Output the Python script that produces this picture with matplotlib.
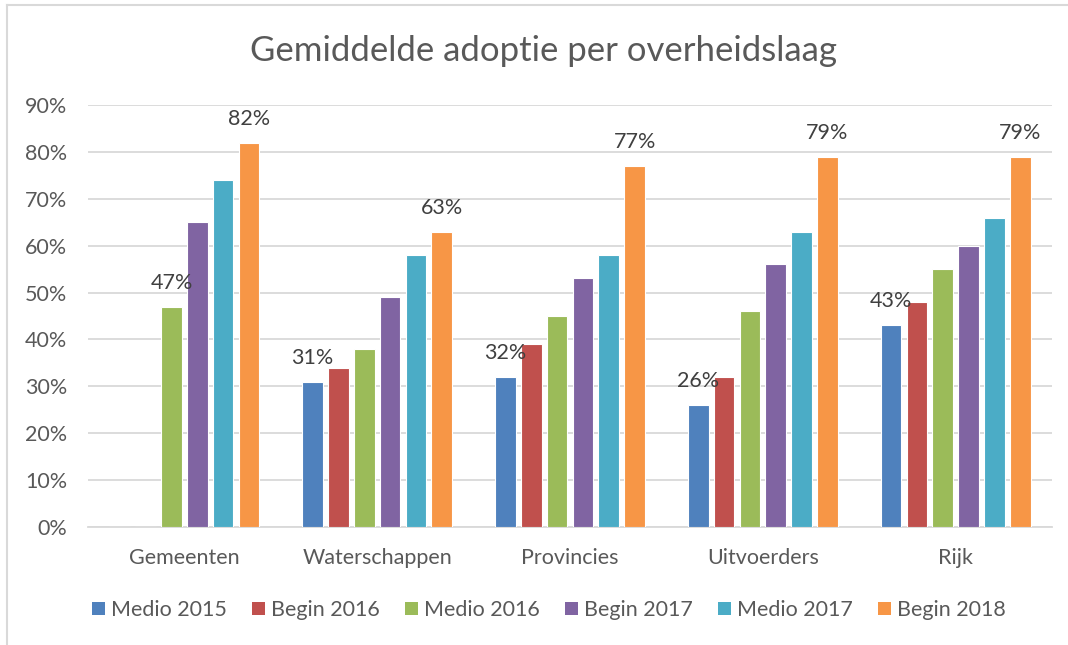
import numpy as np
import matplotlib
matplotlib.use("Agg")
import matplotlib.pyplot as plt
from matplotlib.lines import Line2D
from matplotlib.patches import Patch

plt.rcParams['font.family'] = ['Lato', 'DejaVu Sans']

categories = ["Gemeenten", "Waterschappen", "Provincies", "Uitvoerders", "Rijk"]
series_names = ["Medio 2015", "Begin 2016", "Medio 2016", "Begin 2017", "Medio 2017", "Begin 2018"]
medio_2015 = [np.nan, 31, 32, 26, 43]
begin_2016 = [np.nan, 34, 39, 32, 48]
medio_2016 = [47, 38, 45, 46, 55]
begin_2017 = [65, 49, 53, 56, 60]
medio_2017 = [74, 58, 58, 63, 66]
begin_2018 = [82, 63, 77, 79, 79]
series_values = [medio_2015, begin_2016, medio_2016, begin_2017, medio_2017, begin_2018]
colors = ["#4F81BD", "#C0504D", "#9BBB59", "#8064A2", "#4BACC6", "#F79646"]
yticks = [0, 10, 20, 30, 40, 50, 60, 70, 80, 90]

fig = plt.figure(figsize=(10.68, 6.45), dpi=100)
ax = fig.add_axes([88/1068, 1-527/645, 964/1068, 422/645])

pitch = 0.134
width = 0.107
x = np.arange(len(categories))
n = len(series_values)
for i, (vals, c) in enumerate(zip(series_values, colors)):
    off = (i - (n-1)/2) * pitch
    v = np.array(vals, dtype=float) / 100
    ax.bar(x + off, np.nan_to_num(v), width, color=c, edgecolor='white', linewidth=0.8, zorder=3)

# labels: first and last available value per category
for j in range(len(categories)):
    idx = [i for i in range(n) if not np.isnan(series_values[i][j])]
    for i in (idx[0], idx[-1]):
        off = (i - (n-1)/2) * pitch
        val = series_values[i][j]
        ax.annotate(f"{int(val)}%", (x[j] + off, val/100), xytext=(0, 10), textcoords='offset points',
                    ha='center', va='bottom', fontsize=15.5, color='#404040', zorder=4)

ax.set_xlim(-0.5, len(categories)-0.5)
ax.set_ylim(0, 0.9)
ax.set_yticks([t/100 for t in yticks])
ax.set_yticklabels([f"{t}%" for t in yticks])
ax.set_xticks(x)
ax.set_xticklabels(categories)
ax.grid(axis='y', color='#D9D9D9', linewidth=1.3, zorder=0)
ax.set_axisbelow(True)
for s in ['top', 'right', 'left']:
    ax.spines[s].set_visible(False)
ax.spines['bottom'].set_color('#D9D9D9')
ax.spines['bottom'].set_linewidth(1.3)
ax.tick_params(axis='both', length=0, labelsize=15.5, colors='#595959')
ax.tick_params(axis='y', pad=15)
ax.tick_params(axis='x', pad=15)

fig.text(543/1068, 1-51/645, "Gemiddelde adoptie per overheidslaag", ha='center', va='center',
         fontsize=25, color='#595959')

handles = [Patch(facecolor=c, edgecolor='none') for c in colors]
leg = fig.legend(handles, series_names, loc='center', bbox_to_anchor=(549/1068, 1-610/645), ncol=6,
                 frameon=False, fontsize=15.5, handlelength=0.6, handleheight=0.6, handletextpad=0.3,
                 columnspacing=1.15, labelcolor='#595959')

# chart border (top and left visible)
fig.add_artist(Line2D([7/1068, 7/1068], [0, 1-5/645], color='#D9D9D9', linewidth=1.5))
fig.add_artist(Line2D([7/1068, 1], [1-5/645, 1-5/645], color='#D9D9D9', linewidth=1.5))

fig.savefig("out.png", dpi=100)
